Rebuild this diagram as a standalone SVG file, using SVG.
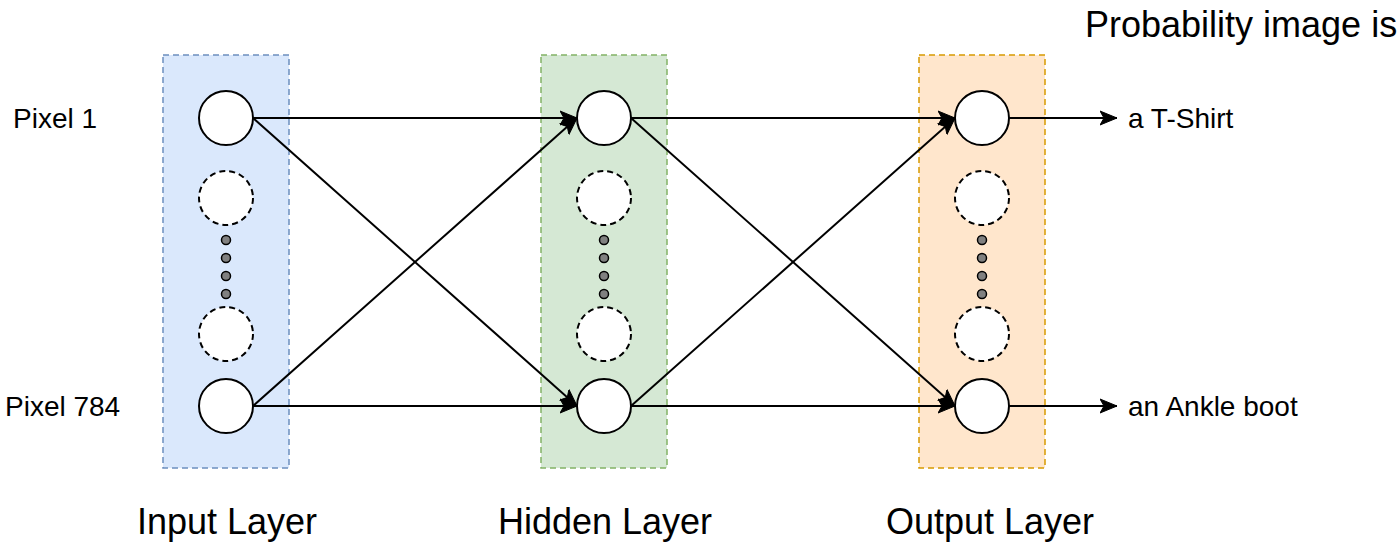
<svg xmlns="http://www.w3.org/2000/svg" width="1397" height="544" viewBox="0 0 1397 544">
<defs>
<marker id="arr" markerUnits="userSpaceOnUse" markerWidth="20" markerHeight="16" viewBox="0 0 20 16" refX="17" refY="8" orient="auto">
<path d="M0,1 L17,8 L0,15 L4,8 Z" fill="#000" stroke="#000" stroke-width="1"/>
</marker>
</defs>
<style>
.txt{font-family:"Liberation Sans",Arial,sans-serif;fill:#000}
.small{font-size:28px}
.big{font-size:36px}
.node{fill:#fff;stroke:#000;stroke-width:2}
.dnode{fill:#fff;stroke:#000;stroke-width:2;stroke-dasharray:6 4}
.dot{fill:#808080;stroke:#000;stroke-width:1.5}
.edge{fill:none;stroke:#000;stroke-width:2;marker-end:url(#arr)}
</style>
<rect width="1397" height="544" fill="#fff"/>
<g id="input-layer">
<rect x="163" y="55" width="126" height="413" fill="#dae8fc" stroke="#6c8ebf" stroke-width="1.5" stroke-dasharray="6 4"/>
</g>
<g id="hidden-layer">
<rect x="541" y="55" width="126" height="413" fill="#d5e8d4" stroke="#82b366" stroke-width="1.5" stroke-dasharray="6 4"/>
</g>
<g id="output-layer">
<rect x="919" y="55" width="126" height="413" fill="#ffe6cc" stroke="#d79b00" stroke-width="1.5" stroke-dasharray="6 4"/>
</g>
<g id="connectors">
<line class="edge" x1="253" y1="118" x2="577" y2="118"/>
<line class="edge" x1="253" y1="118" x2="577" y2="406"/>
<line class="edge" x1="253" y1="406" x2="577" y2="118"/>
<line class="edge" x1="253" y1="406" x2="577" y2="406"/>
<line class="edge" x1="631" y1="118" x2="955" y2="118"/>
<line class="edge" x1="631" y1="118" x2="955" y2="406"/>
<line class="edge" x1="631" y1="406" x2="955" y2="118"/>
<line class="edge" x1="631" y1="406" x2="955" y2="406"/>
<line class="edge" x1="1009" y1="118" x2="1117" y2="118"/>
<line class="edge" x1="1009" y1="406" x2="1117" y2="406"/>
</g>
<g id="input-nodes">
<circle id="in1" class="node" cx="226" cy="118" r="27"/>
<circle class="dnode" cx="226" cy="198" r="27"/>
<circle class="dot" cx="226" cy="240" r="4.5"/>
<circle class="dot" cx="226" cy="258" r="4.5"/>
<circle class="dot" cx="226" cy="276" r="4.5"/>
<circle class="dot" cx="226" cy="294" r="4.5"/>
<circle class="dnode" cx="226" cy="334" r="27"/>
<circle id="in784" class="node" cx="226" cy="406" r="27"/>
</g>
<g id="hidden-nodes">
<circle id="h1" class="node" cx="604" cy="118" r="27"/>
<circle class="dnode" cx="604" cy="198" r="27"/>
<circle class="dot" cx="604" cy="240" r="4.5"/>
<circle class="dot" cx="604" cy="258" r="4.5"/>
<circle class="dot" cx="604" cy="276" r="4.5"/>
<circle class="dot" cx="604" cy="294" r="4.5"/>
<circle class="dnode" cx="604" cy="334" r="27"/>
<circle id="hn" class="node" cx="604" cy="406" r="27"/>
</g>
<g id="output-nodes">
<circle id="o1" class="node" cx="982" cy="118" r="27"/>
<circle class="dnode" cx="982" cy="198" r="27"/>
<circle class="dot" cx="982" cy="240" r="4.5"/>
<circle class="dot" cx="982" cy="258" r="4.5"/>
<circle class="dot" cx="982" cy="276" r="4.5"/>
<circle class="dot" cx="982" cy="294" r="4.5"/>
<circle class="dnode" cx="982" cy="334" r="27"/>
<circle id="on" class="node" cx="982" cy="406" r="27"/>
</g>
<g id="labels">
<text class="txt small" x="13" y="128">Pixel 1</text>
<text class="txt small" x="5" y="416">Pixel 784</text>
<text class="txt small" x="1128" y="128">a T-Shirt</text>
<text class="txt small" x="1128" y="416">an Ankle boot</text>
<text class="txt big" x="1085" y="37">Probability image is</text>
<text class="txt big" x="227" y="534" text-anchor="middle">Input Layer</text>
<text class="txt big" x="605" y="534" text-anchor="middle">Hidden Layer</text>
<text class="txt big" x="990" y="534" text-anchor="middle">Output Layer</text>
</g>
</svg>
